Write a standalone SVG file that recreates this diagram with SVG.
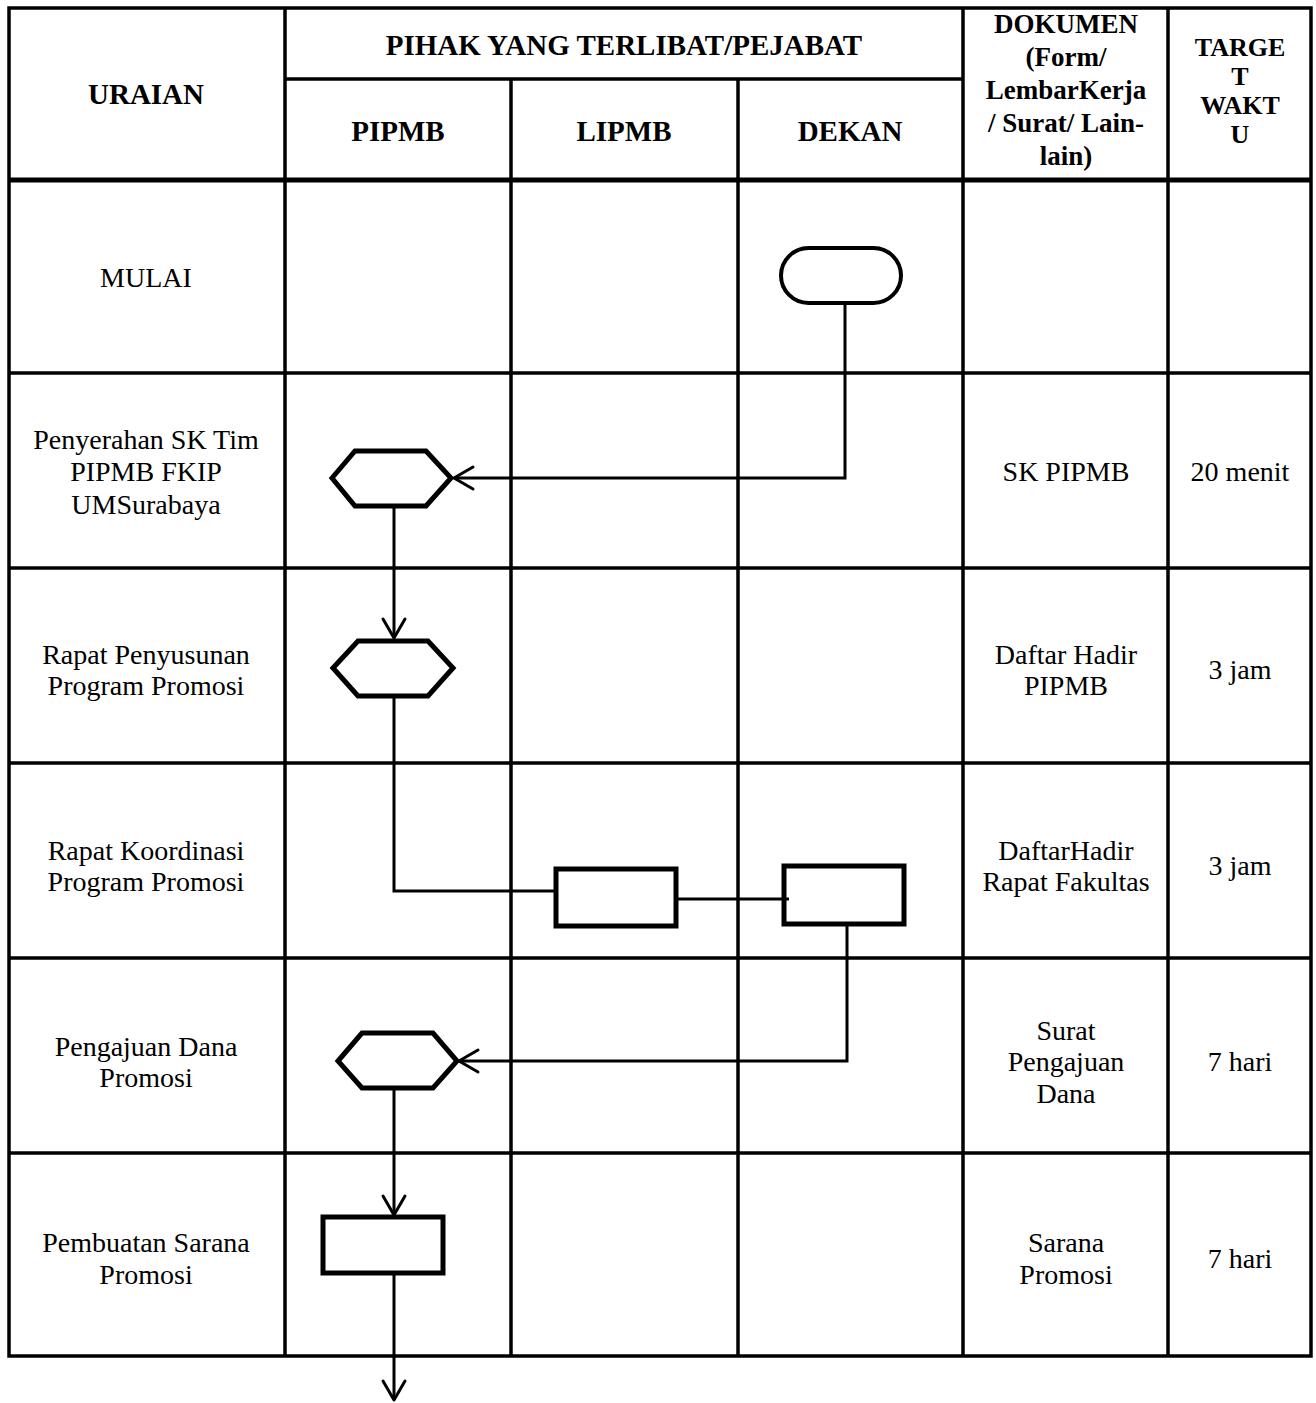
<svg xmlns="http://www.w3.org/2000/svg" width="1316" height="1403" viewBox="0 0 1316 1403">
<style>
.grid{stroke:#000;stroke-width:3.5;fill:none}
.shape{stroke:#000;stroke-width:5;fill:#fff}
.term{stroke:#000;stroke-width:4;fill:#fff}
.conn{stroke:#000;stroke-width:3;fill:none}
.h{font-family:"Liberation Serif","Times New Roman",serif;font-weight:bold;font-size:29px;text-anchor:middle;fill:#000}
.hs{font-size:27px}
.hx{font-size:26px}
.t{font-family:"Liberation Serif","Times New Roman",serif;font-size:28px;text-anchor:middle;fill:#000}
</style>
<defs>
<marker id="arr" markerUnits="userSpaceOnUse" markerWidth="40" markerHeight="40" viewBox="-30 -20 40 40" refX="0" refY="0" orient="auto" overflow="visible">
<path d="M-19,-11 L0,0 L-19,11" fill="none" stroke="#000" stroke-width="3" stroke-linejoin="round" stroke-linecap="round"/>
</marker>
</defs>
<rect width="1316" height="1403" fill="#fff"/>
<g id="table">
<rect class="grid" x="9" y="8" width="1302" height="1348"/>
<line class="grid" x1="285" y1="8" x2="285" y2="1356"/>
<line class="grid" x1="511" y1="79" x2="511" y2="1356"/>
<line class="grid" x1="738" y1="79" x2="738" y2="1356"/>
<line class="grid" x1="963" y1="8" x2="963" y2="1356"/>
<line class="grid" x1="1168" y1="8" x2="1168" y2="1356"/>
<line class="grid" x1="285" y1="79" x2="963" y2="79"/>
<line class="grid" x1="9" y1="180" x2="1311" y2="180" style="stroke-width:5"/>
<line class="grid" x1="9" y1="373" x2="1311" y2="373"/>
<line class="grid" x1="9" y1="568" x2="1311" y2="568"/>
<line class="grid" x1="9" y1="763" x2="1311" y2="763"/>
<line class="grid" x1="9" y1="958" x2="1311" y2="958"/>
<line class="grid" x1="9" y1="1153" x2="1311" y2="1153"/>
</g>
<g id="header">
<text class="h" x="624" y="55">PIHAK YANG TERLIBAT/PEJABAT</text>
<text class="h" x="146" y="104">URAIAN</text>
<text class="h" x="398" y="141">PIPMB</text>
<text class="h" x="624" y="141">LIPMB</text>
<text class="h" x="850" y="141">DEKAN</text>
<text class="h hs" x="1066"><tspan x="1066" y="33">DOKUMEN</tspan><tspan x="1066" y="66">(Form/</tspan><tspan x="1066" y="99">LembarKerja</tspan><tspan x="1066" y="132">/ Surat/ Lain-</tspan><tspan x="1066" y="165">lain)</tspan></text>
<text class="h hx" x="1240"><tspan x="1240" y="56">TARGE</tspan><tspan x="1240" y="85">T</tspan><tspan x="1240" y="114">WAKT</tspan><tspan x="1240" y="143">U</tspan></text>
</g>
<g id="labels">
<text class="t" x="146" y="287">MULAI</text>
<text class="t" x="146"><tspan x="146" y="449">Penyerahan SK Tim</tspan><tspan x="146" y="481">PIPMB FKIP</tspan><tspan x="146" y="514">UMSurabaya</tspan></text>
<text class="t" x="1066" y="481">SK PIPMB</text>
<text class="t" x="1240" y="481">20 menit</text>
<text class="t" x="146"><tspan x="146" y="664">Rapat Penyusunan</tspan><tspan x="146" y="695">Program Promosi</tspan></text>
<text class="t" x="1066"><tspan x="1066" y="664">Daftar Hadir</tspan><tspan x="1066" y="695">PIPMB</tspan></text>
<text class="t" x="1240" y="679">3 jam</text>
<text class="t" x="146"><tspan x="146" y="860">Rapat Koordinasi</tspan><tspan x="146" y="891">Program Promosi</tspan></text>
<text class="t" x="1066"><tspan x="1066" y="860">DaftarHadir</tspan><tspan x="1066" y="891">Rapat Fakultas</tspan></text>
<text class="t" x="1240" y="875">3 jam</text>
<text class="t" x="146"><tspan x="146" y="1056">Pengajuan Dana</tspan><tspan x="146" y="1087">Promosi</tspan></text>
<text class="t" x="1066"><tspan x="1066" y="1040">Surat</tspan><tspan x="1066" y="1071">Pengajuan</tspan><tspan x="1066" y="1103">Dana</tspan></text>
<text class="t" x="1240" y="1071">7 hari</text>
<text class="t" x="146"><tspan x="146" y="1252">Pembuatan Sarana</tspan><tspan x="146" y="1284">Promosi</tspan></text>
<text class="t" x="1066"><tspan x="1066" y="1252">Sarana</tspan><tspan x="1066" y="1284">Promosi</tspan></text>
<text class="t" x="1240" y="1268">7 hari</text>
</g>
<g id="connectors">
<path class="conn" d="M845,303 V478 H454" marker-end="url(#arr)"/>
<path class="conn" d="M394,506 V638" marker-end="url(#arr)"/>
<path class="conn" d="M394,696 V891 H556"/>
<path class="conn" d="M676,899 H789"/>
<path class="conn" d="M847,924 V1061 H459" marker-end="url(#arr)"/>
<path class="conn" d="M394,1088 V1215" marker-end="url(#arr)"/>
<path class="conn" d="M394,1273 V1400" marker-end="url(#arr)"/>
</g>
<g id="start"><rect class="term" x="781" y="248" width="120" height="55" rx="27.5"/></g>
<g id="hex1"><polygon class="shape" points="332,478 355,451 426,451 451,478 426,506 355,506"/></g>
<g id="hex2"><polygon class="shape" points="333,668 358,641 428,641 453,668 428,696 358,696"/></g>
<g id="rect-lipmb"><rect class="shape" x="556" y="869" width="120" height="57"/></g>
<g id="rect-dekan"><rect class="shape" x="784" y="866" width="120" height="58" style="fill:none"/></g>
<g id="hex3"><polygon class="shape" points="338,1061 362,1033 433,1033 457,1061 433,1088 362,1088"/></g>
<g id="rect-sarana"><rect class="shape" x="323" y="1217" width="120" height="56"/></g>
</svg>
